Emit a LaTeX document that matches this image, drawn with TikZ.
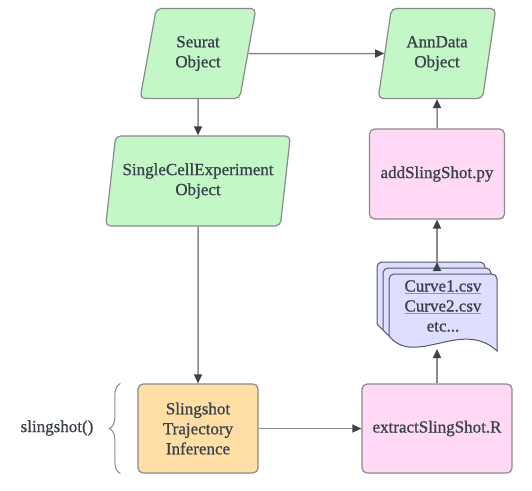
\documentclass[tikz,border=0pt]{standalone}
\usepackage{fontspec}
\setmainfont{Liberation Serif}[FakeBold=0.9]
\usetikzlibrary{shapes.geometric,arrows.meta,decorations.pathreplacing}
\definecolor{ink}{RGB}{58,65,74}
\definecolor{edgegrey}{RGB}{138,138,138}
\definecolor{objgreen}{RGB}{195,247,200}
\definecolor{scriptpink}{RGB}{255,217,245}
\definecolor{steporange}{RGB}{255,223,166}
\definecolor{filelilac}{RGB}{222,222,255}
\definecolor{fileborder}{RGB}{85,85,105}
\definecolor{linkblue}{RGB}{140,140,255}
\newcommand{\csvlink}[1]{\textcolor{linkblue}{$\underline{\hbox{\textcolor{ink}{#1}}}$}}

\begin{document}
\begin{tikzpicture}[x=1pt, y=1pt,
	font=\fontsize{17}{20}\selectfont, text=ink,
	>={Triangle[length=9pt, width=8pt, color=ink]},
	dataobj/.style={trapezium, trapezium left angle=76, trapezium right angle=104,
		trapezium stretches=true, draw=edgegrey, line width=1.2pt, fill=objgreen,
		rounded corners=5pt, align=center, inner sep=1pt, minimum height=90pt},
	scriptbox/.style={rectangle, draw=edgegrey, line width=1.2pt, fill=scriptpink,
		rounded corners=5pt, align=center, minimum height=90pt},
	stepbox/.style={scriptbox, fill=steporange},
	docsheet/.style={draw=fileborder, line width=1pt, fill=filelilac},
	flow/.style={draw=edgegrey, line width=1.5pt}]
	\useasboundingbox (0,0) rectangle (532,-490);

	% data objects
	\node[dataobj, minimum width=116pt] (seurat) at (198,-53.5) {Seurat\\Object};
	\node[dataobj, minimum width=118pt] (anndata) at (437,-53.5) {AnnData\\Object};
	\node[dataobj, minimum width=185pt] (sce) at (198,-181) {SingleCellExperiment\\Object};

	% scripts
	\node[stepbox, minimum width=120pt, minimum height=89pt] (sling) at (198,-428.5) {Slingshot\\Trajectory\\Inference};
	\node[scriptbox, minimum width=150pt, minimum height=89pt] (extract) at (437,-428.5) {extractSlingShot.R};
	\node[scriptbox, minimum width=135pt] (addss) at (437,-174) {addSlingShot.py};

	% stack of curve files
	\foreach \o in {12,6,0}
		\draw[docsheet, shift={(-\o,\o)}] (389,-336) [rounded corners=5pt] -- (389,-274) -- (497,-274)
			[sharp corners] -- (497,-351) .. controls +(-35,33) and +(26,-32) .. (389,-336) -- cycle;
	\node[align=center, inner sep=0pt] (curves) at (443,-306) {\csvlink{Curve1.csv}\\\csvlink{Curve2.csv}\\etc...};
	\coordinate (docbot) at (437,-349);
	\coordinate (doctop) at (437,-262);

	% brace
	\draw[edgegrey, line width=1pt, decorate, decoration={brace, amplitude=11pt}]
		([xshift=-17pt]sling.south west) -- ([xshift=-17pt]sling.north west);
	\node (slingcall) at (57,-428) {slingshot()};

	\path[flow, ->]
	(seurat) edge (anndata) edge (sce)
	(sce) edge (sling)
	(sling) edge (extract)
	(extract) edge (docbot)
	(doctop) edge (addss)
	(addss) edge (anndata);
\end{tikzpicture}
\end{document}
